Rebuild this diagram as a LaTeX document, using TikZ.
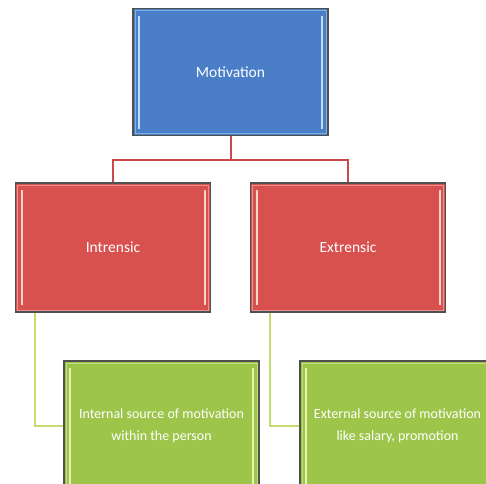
\documentclass[tikz,border=0pt]{standalone}
\usepackage{fontspec}
\setmainfont{Carlito}
\definecolor{mblue}{HTML}{4A7FC8}
\definecolor{mred}{HTML}{D9514E}
\definecolor{mgreen}{HTML}{9CC54A}
\definecolor{lred}{HTML}{C9484A}
\definecolor{lgreen}{HTML}{C5DC6E}
\definecolor{edge}{HTML}{505050}
\definecolor{hblue}{HTML}{B8DDF8}
\definecolor{hred}{HTML}{F6D4D0}
\definecolor{hgreen}{HTML}{E8F2B0}
\tikzset{
  box/.style={draw=edge, line width=1.4pt, minimum width=195pt, minimum height=127pt,
    inner sep=0pt, text=white, font=\fontsize{15.5}{22}\selectfont, align=center,
    path picture={
      \draw[#1, line width=2pt] ([xshift=6pt,yshift=-7pt]path picture bounding box.north west) -- ([xshift=6pt,yshift=7pt]path picture bounding box.south west);
      \draw[#1, line width=2pt] ([xshift=-6pt,yshift=-7pt]path picture bounding box.north east) -- ([xshift=-6pt,yshift=7pt]path picture bounding box.south east);
      \draw[#1, opacity=0.5, line width=1pt] ([shift={(2pt,-2pt)}]path picture bounding box.north west) rectangle ([shift={(-2pt,2pt)}]path picture bounding box.south east);
    }},
  bluebox/.style={box=hblue, fill=mblue},
  redbox/.style={box=hred, fill=mred},
  greenbox/.style={box=hgreen, fill=mgreen, font=\fontsize{14}{22}\selectfont},
  redline/.style={draw=lred, line width=2pt},
  greenline/.style={draw=lgreen, line width=2pt},
}
\begin{document}
\begin{tikzpicture}[x=1pt,y=-1pt]
\clip (0,0) rectangle (486,483);
\fill[white] (0,0) rectangle (486,483);
\node[bluebox] (mot) at (230.5,72) {Motivation};
\node[redbox, minimum height=129pt] (intr) at (113,247.5) {Intrensic};
\node[redbox, minimum height=129pt] (extr) at (348,247.5) {Extrensic};
\node[greenbox, minimum height=130pt] (int2) at (161.5,426) {Internal source of motivation\\within the person};
\node[greenbox, minimum height=130pt] (ext2) at (397.5,426) {External source of motivation\\like salary, promotion};
\coordinate (j) at (230.5,160);
\draw[redline] (mot.south) -- (j) -| (intr.north);
\draw[redline] (j) -| (extr.north);
\draw[greenline] ([xshift=20pt]intr.south west) |- (int2.west);
\draw[greenline] ([xshift=20pt]extr.south west) |- (ext2.west);
\end{tikzpicture}
\end{document}
